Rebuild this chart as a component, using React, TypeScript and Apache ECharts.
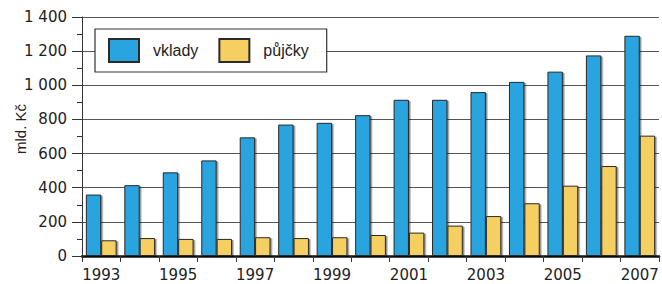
import React, { useEffect, useRef } from "react";
import * as echarts from "echarts";

const years = ["1993","1994","1995","1996","1997","1998","1999","2000","2001","2002","2003","2004","2005","2006","2007"];
const vklady = [360, 415, 490, 560, 695, 770, 780, 825, 915, 915, 960, 1020, 1080, 1175, 1290];
const pujcky = [92, 105, 100, 100, 110, 105, 110, 123, 137, 178, 234, 309, 412, 527, 705];
const yTicks = [0, 200, 400, 600, 800, 1000, 1200, 1400];

const FONT = "Liberation Sans, Arial, Helvetica, sans-serif";
const NUMFONT = "DejaVu Sans, Liberation Sans, sans-serif";

export default function App() {
  const ref = useRef<HTMLDivElement>(null);
  useEffect(() => {
    if (!ref.current) return;
    const chart = echarts.init(ref.current, undefined, { renderer: "svg" });
    const fmt = (v: number) => String(v).replace(/\B(?=(\d{3})+(?!\d))/g, " ");
    const shadow = { shadowColor: "rgba(0,0,0,0.45)", shadowOffsetX: 1.5, shadowOffsetY: 1, shadowBlur: 0 };
    chart.setOption({
      animation: false,
      textStyle: { fontFamily: FONT },
      grid: { left: 82, right: 3, top: 17, bottom: 28, containLabel: false },
      legend: {
        left: 95,
        top: 29,
        orient: "horizontal",
        backgroundColor: "#fff",
        borderColor: "#333",
        borderWidth: 1.2,
        borderRadius: 0,
        padding: [9, 18, 9, 13],
        itemWidth: 30,
        itemHeight: 23,
        itemGap: 20,
        icon: "rect",
        textStyle: { fontFamily: FONT, fontSize: 16, color: "#222", padding: [0, 0, 0, 9] },
        data: ["vklady", "půjčky"],
      },
      graphic: [
        {
          type: "text",
          x: 20,
          y: 129,
          rotation: Math.PI / 2,
          style: { text: "mld. Kč", font: `15px ${FONT}`, fill: "#222", align: "center", verticalAlign: "middle" },
        },
      ],
      xAxis: {
        type: "category",
        data: years,
        boundaryGap: true,
        axisLine: { lineStyle: { color: "#111", width: 2.5 } },
        axisTick: { show: true, alignWithLabel: false, interval: 0, length: 6, lineStyle: { color: "#333", width: 1 } },
        axisLabel: { interval: 1, fontSize: 15, color: "#222", margin: 11, fontFamily: NUMFONT, lineHeight: 15 },
        splitLine: { show: false },
      },
      yAxis: {
        type: "value",
        min: 0,
        max: 1400,
        interval: 200,
        axisLine: { show: true, lineStyle: { color: "#333", width: 1 } },
        axisTick: { show: true, length: 10, lineStyle: { color: "#333", width: 1 } },
        minorTick: { show: true, splitNumber: 2, length: 5, lineStyle: { color: "#333", width: 1 } },
        axisLabel: {
          fontSize: 15,
          color: "#222",
          margin: 15,
          fontFamily: NUMFONT,
          formatter: (v: number) => (yTicks.includes(v) ? fmt(v) : ""),
        },
        splitLine: { show: true, lineStyle: { color: "#555", width: 1.2 } },
      },
      series: [
        {
          name: "vklady",
          type: "bar",
          data: vklady,
          barGap: "0%",
          barCategoryGap: "20%",
          itemStyle: { color: "#29A4DE", borderColor: "#2a2a2a", borderWidth: 1, ...shadow },
        },
        {
          name: "půjčky",
          type: "bar",
          data: pujcky,
          barGap: "0%",
          barCategoryGap: "20%",
          itemStyle: { color: "#F6CF62", borderColor: "#2a2a2a", borderWidth: 1, ...shadow },
        },
      ],
    });
    return () => chart.dispose();
  }, []);
  return <div ref={ref} style={{ position: "absolute", left: 0, top: 0, width: 662, height: 284 }} />;
}
